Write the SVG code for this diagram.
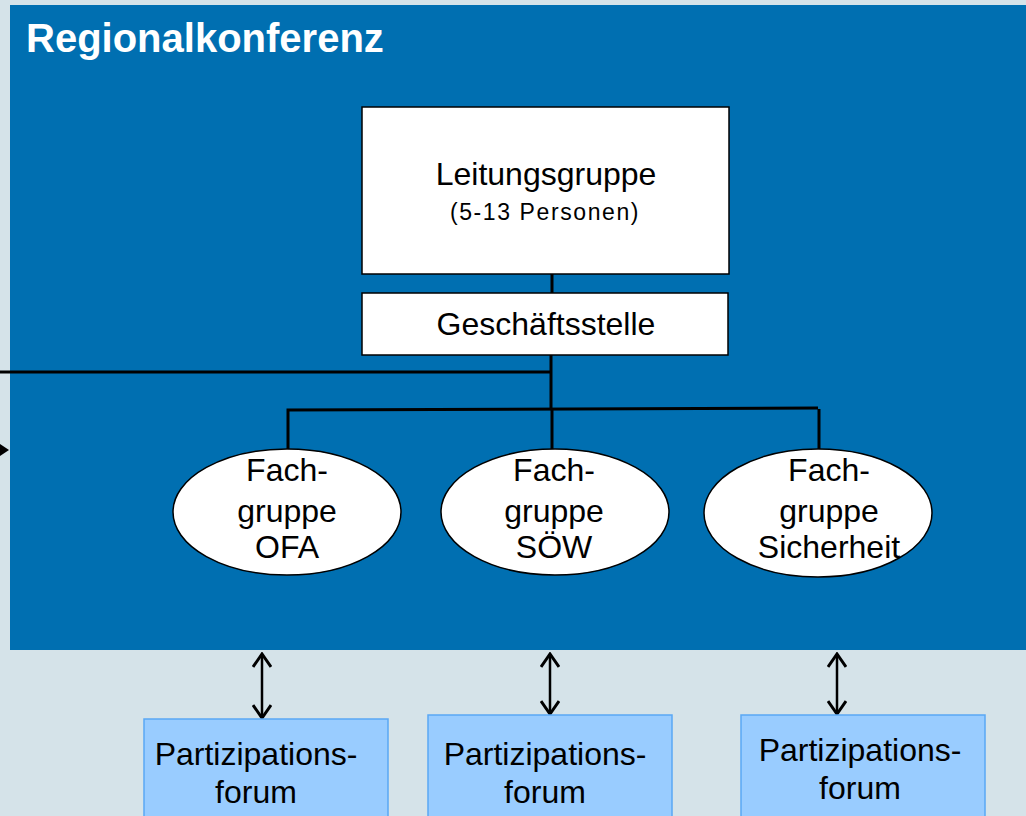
<svg xmlns="http://www.w3.org/2000/svg" width="1026" height="816" viewBox="0 0 1026 816">
<defs>
<style>
.lbl{font-family:"Liberation Sans",Arial,sans-serif;fill:#000;text-anchor:middle}
.box{fill:#fff;stroke:#000;stroke-width:1.5}
.ell{fill:#fff;stroke:#000;stroke-width:1.5}
.pf{fill:#99ccff;stroke:#5aa8f5;stroke-width:1.5}
.ln{stroke:#000;stroke-width:3;fill:none}
.dbl{stroke:#000;stroke-width:2.5;fill:none}
</style>
<marker id="ah" viewBox="0 0 16 20" refX="14" refY="10" markerWidth="16" markerHeight="20" markerUnits="userSpaceOnUse" orient="auto-start-reverse">
<path d="M1,1 L14,10 L1,19" fill="none" stroke="#000" stroke-width="3"/>
</marker>
</defs>
<rect x="0" y="0" width="1026" height="816" fill="#d5e3e9"/>
<g id="regionalkonferenz">
<rect x="10" y="5" width="1016" height="645" fill="#006fb1"/>
<text x="26" y="52" font-family="Liberation Sans,Arial,sans-serif" font-weight="bold" font-size="40" fill="#fff">Regionalkonferenz</text>
</g>
<g id="connectors">
<line class="ln" x1="552" y1="274" x2="552" y2="293"/>
<line class="ln" x1="551" y1="355" x2="551" y2="410"/>
<line class="ln" x1="0" y1="372" x2="551" y2="372"/>
<polyline class="ln" points="288,450 288,410 818,408"/>
<line class="ln" x1="552" y1="410" x2="552" y2="450"/>
<line class="ln" x1="819" y1="409" x2="819" y2="450"/>
<polygon points="0,444 9,450 0,456" fill="#000"/>
<line class="dbl" x1="262" y1="654" x2="262" y2="718" marker-start="url(#ah)" marker-end="url(#ah)"/>
<line class="dbl" x1="550" y1="654" x2="550" y2="714" marker-start="url(#ah)" marker-end="url(#ah)"/>
<line class="dbl" x1="837" y1="654" x2="837" y2="714" marker-start="url(#ah)" marker-end="url(#ah)"/>
</g>
<g id="leitungsgruppe">
<rect class="box" x="362" y="107" width="367" height="167"/>
<text class="lbl" x="546" y="185" font-size="32">Leitungsgruppe</text>
<text class="lbl" x="545" y="220" font-size="23" letter-spacing="1.6">(5-13 Personen)</text>
</g>
<g id="geschaeftsstelle">
<rect class="box" x="362" y="293" width="366" height="62"/>
<text class="lbl" x="546" y="335" font-size="32">Geschäftsstelle</text>
</g>
<g id="fg-ofa">
<ellipse class="ell" cx="287" cy="512" rx="114" ry="63"/>
<text class="lbl" x="287" y="481" font-size="32">Fach-</text>
<text class="lbl" x="287" y="522" font-size="32">gruppe</text>
<text class="lbl" x="287" y="558" font-size="32">OFA</text>
</g>
<g id="fg-soew">
<ellipse class="ell" cx="555" cy="512" rx="114" ry="63"/>
<text class="lbl" x="554" y="481" font-size="32">Fach-</text>
<text class="lbl" x="554" y="522" font-size="32">gruppe</text>
<text class="lbl" x="554" y="558" font-size="32">SÖW</text>
</g>
<g id="fg-sicherheit">
<ellipse class="ell" cx="818" cy="513" rx="114" ry="64"/>
<text class="lbl" x="829" y="481" font-size="32">Fach-</text>
<text class="lbl" x="829" y="522" font-size="32">gruppe</text>
<text class="lbl" x="829" y="558" font-size="32">Sicherheit</text>
</g>
<g id="pf1">
<rect class="pf" x="144" y="719" width="244" height="110"/>
<text class="lbl" x="256" y="765" font-size="32">Partizipations-</text>
<text class="lbl" x="256" y="803" font-size="32">forum</text>
</g>
<g id="pf2">
<rect class="pf" x="428" y="715" width="244" height="110"/>
<text class="lbl" x="545" y="765" font-size="32">Partizipations-</text>
<text class="lbl" x="545" y="803" font-size="32">forum</text>
</g>
<g id="pf3">
<rect class="pf" x="741" y="715" width="244" height="110"/>
<text class="lbl" x="860" y="761" font-size="32">Partizipations-</text>
<text class="lbl" x="860" y="799" font-size="32">forum</text>
</g>
</svg>
